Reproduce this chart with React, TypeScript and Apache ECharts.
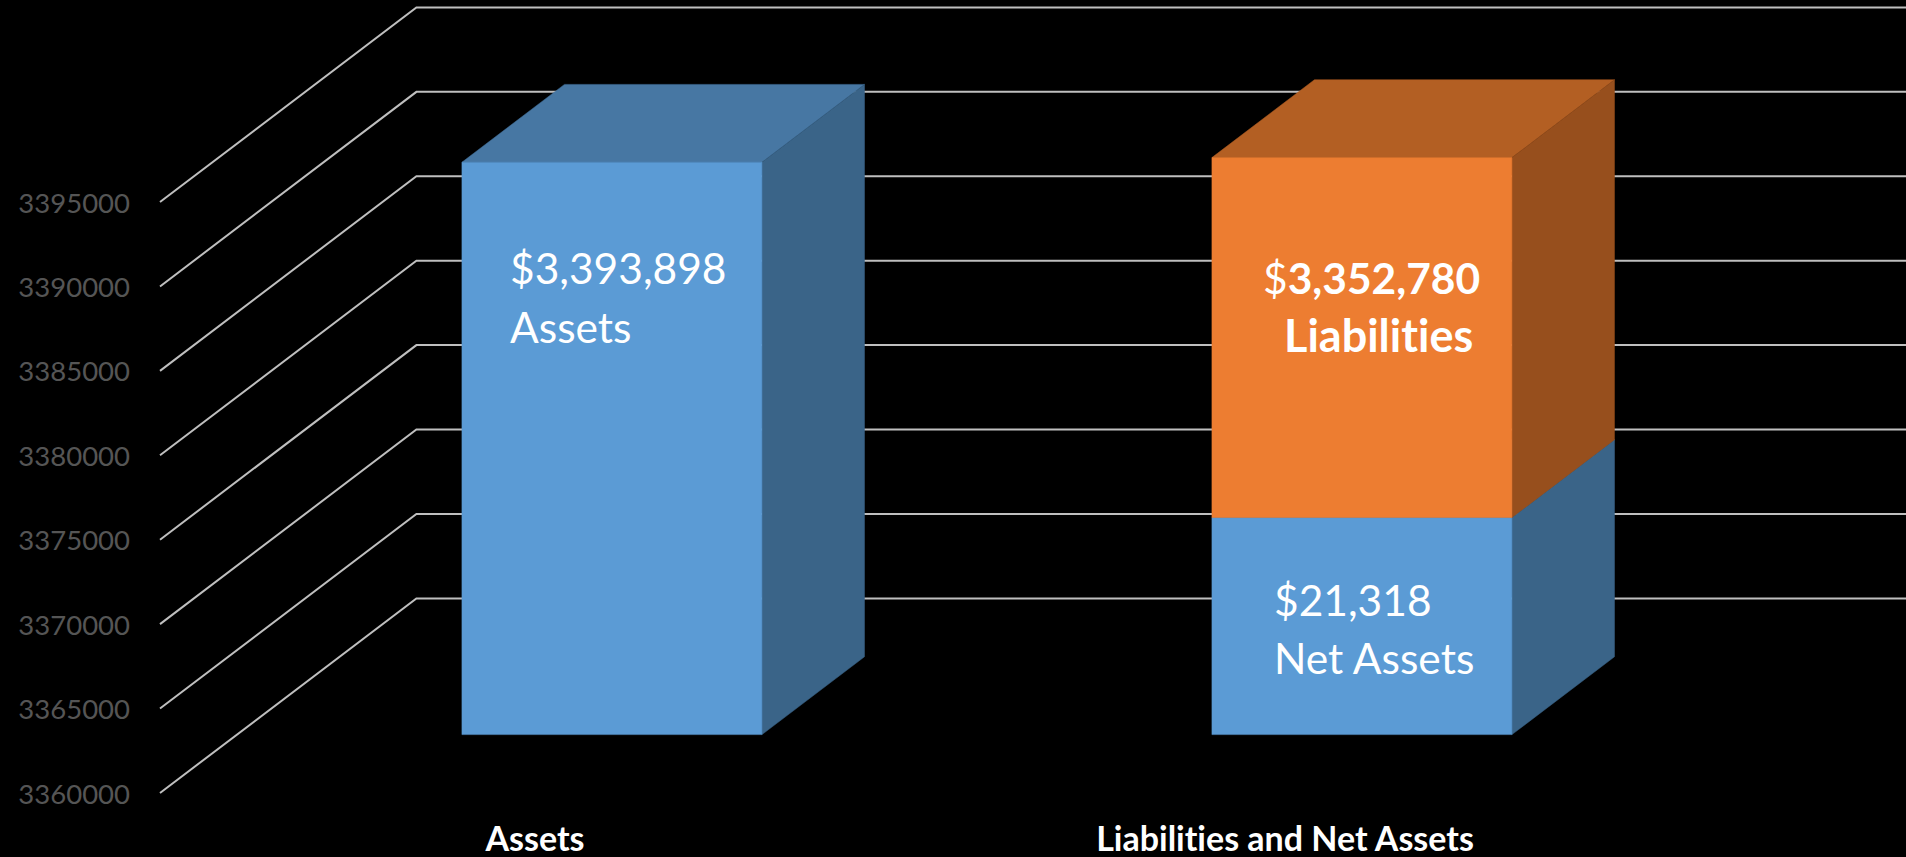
import React, { useEffect, useRef } from "react";
import * as echarts from "echarts";

const categories = ["Assets", "Liabilities and Net Assets"];
const blueValues = [3393898, 3372855];
const orangeValues = [null, 21318];
const axisMin = 3360000;
const axisMax = 3395000;
const axisStep = 5000;
const tickValues = [3360000, 3365000, 3370000, 3375000, 3380000, 3385000, 3390000, 3395000];

const BLUE = { front: "#5B9BD5", top: "#4777A3", side: "#3A6488" };
const ORANGE = { front: "#ED7D31", top: "#B35F23", side: "#974F1D" };
const DEPTH_X = 256.4;
const DEPTH_Y = -194.6;
const FONT = "Lato, Carlito, sans-serif";

function cuboid(api: any, idx: number, base: number, topValue: number, c: any) {
  const band = api.size([1, 0])[0];
  const center = api.coord([idx, base])[0];
  const w = band * 0.4;
  const sx = DEPTH_X * 0.3;
  const sy = DEPTH_Y * 0.3;
  const dx = DEPTH_X * 0.4;
  const dy = DEPTH_Y * 0.4;
  const x0 = center - w / 2 + sx;
  const x1 = x0 + w;
  const yb = api.coord([idx, base])[1] + sy;
  const yt = api.coord([idx, topValue])[1] + sy;
  const poly = (points: number[][], fill: string) => ({
    type: "polygon",
    shape: { points },
    style: { fill, stroke: fill, lineWidth: 0.5 },
  });
  return {
    type: "group",
    children: [
      poly([[x0, yt], [x0 + dx, yt + dy], [x1 + dx, yt + dy], [x1, yt]], c.top),
      poly([[x1, yb], [x1 + dx, yb + dy], [x1 + dx, yt + dy], [x1, yt]], c.side),
      poly([[x0, yb], [x1, yb], [x1, yt], [x0, yt]], c.front),
    ],
  };
}

const annotation = (
  x: number,
  y: number,
  text: string,
  weight: string | number = 400,
  size: number = 42.5
) => ({
  type: "text",
  x,
  y,
  z: 10,
  style: {
    text,
    fill: "#FFFFFF",
    font: `${weight} ${size}px ${FONT}`,
    verticalAlign: "middle",
    align: "left",
  },
});

export default function App() {
  const ref = useRef<HTMLDivElement>(null);
  useEffect(() => {
    document.body.style.margin = "0";
    document.body.style.background = "#000";
    const chart = echarts.init(ref.current!, undefined, { renderer: "svg" });
    chart.setOption({
      animation: false,
      backgroundColor: "#000000",
      grid: { left: 160, top: 202, width: 1500, height: 591, containLabel: false },
      xAxis: {
        type: "category",
        data: categories,
        axisLine: { show: false },
        axisTick: { show: false },
        axisLabel: {
          margin: 27,
          color: "#FFFFFF",
          fontFamily: FONT,
          fontWeight: 700,
          fontSize: 34,
        },
      },
      yAxis: {
        type: "value",
        min: axisMin,
        max: axisMax,
        interval: axisStep,
        axisLine: { show: false },
        axisTick: { show: false },
        splitLine: { show: false },
        axisLabel: {
          margin: 30,
          color: "#555555",
          fontFamily: FONT,
          fontWeight: 400,
          fontSize: 27.5,
          formatter: (v: number) => String(v),
        },
      },
      series: [
        {
          type: "custom",
          z: 1,
          silent: true,
          data: tickValues.map((v) => [0, v]),
          encode: { x: 0, y: 1 },
          renderItem: (params: any, api: any) => {
            const y = api.coord([0, api.value(1)])[1];
            const x = params.coordSys.x;
            return {
              type: "polyline",
              shape: {
                points: [
                  [x, y],
                  [x + DEPTH_X, y + DEPTH_Y],
                  [api.getWidth(), y + DEPTH_Y],
                ],
              },
              style: { fill: "none", stroke: "#BFBFBF", lineWidth: 2 },
            };
          },
        },
        {
          type: "custom",
          name: "Blue",
          z: 2,
          silent: true,
          data: blueValues.map((v, i) => [i, v]),
          encode: { x: 0, y: 1 },
          renderItem: (_p: any, api: any) =>
            cuboid(api, api.value(0), axisMin, api.value(1), BLUE),
        },
        {
          type: "custom",
          name: "Orange",
          z: 3,
          silent: true,
          data: orangeValues
            .map((v, i) => (v == null ? null : [i, blueValues[i], v]))
            .filter(Boolean),
          encode: { x: 0, y: 1 },
          renderItem: (_p: any, api: any) =>
            cuboid(api, api.value(0), api.value(1), api.value(1) + api.value(2), ORANGE),
        },
      ],
      graphic: [
        annotation(510, 267, "$3,393,898"),
        annotation(510, 326, "Assets"),
        {
          type: "text",
          x: 1263,
          y: 277,
          z: 10,
          style: {
            text: "{a|$}{b|3,352,780}",
            verticalAlign: "middle",
            rich: {
              a: { fill: "#FFFFFF", font: `400 42.5px ${FONT}` },
              b: { fill: "#FFFFFF", font: `700 42.5px ${FONT}` },
            },
          },
        },
        annotation(1284, 335, "Liabilities", 700, 45),
        annotation(1274, 599, "$21,318"),
        annotation(1274, 657, "Net Assets"),
      ],
    });
    return () => chart.dispose();
  }, []);
  return (
    <>
      <style>{`svg text { font-variant-ligatures: none !important; font-feature-settings: "liga" 0 !important; }`}</style>
      <div
        ref={ref}
        style={{ position: "absolute", left: 0, top: 0, width: 1906, height: 857, background: "#000" }}
      />
    </>
  );
}
